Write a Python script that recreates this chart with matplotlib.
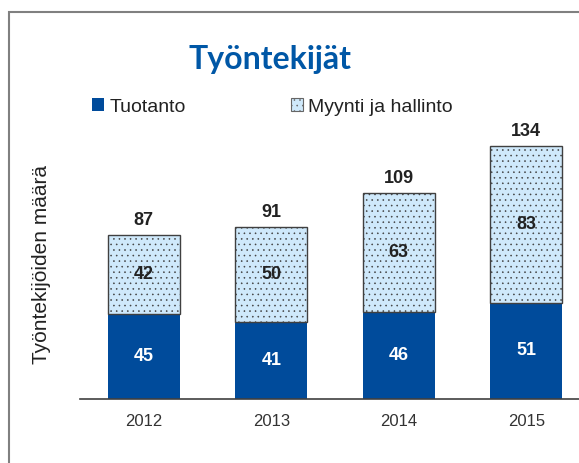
import matplotlib.pyplot as plt
from matplotlib.patches import Patch, Rectangle
import numpy as np

# data
vuodet = ['2012', '2013', '2014', '2015']
tuotanto = [45, 41, 46, 51]
myynti = [42, 50, 63, 83]
yhteensa = [87, 91, 109, 134]

tumma = '#004B9B'
vaalea = '#CFE9FB'

plt.rcParams['font.family'] = ['Liberation Sans', 'DejaVu Sans']
plt.rcParams['hatch.color'] = '#2a3a4a'
plt.rcParams['hatch.linewidth'] = 0.4

fig = plt.figure(figsize=(5.79, 4.63), dpi=100)

# frame around the chart
fig.patches.append(Rectangle((9/579, -0.05), 1.0, 1 - 12/463 + 0.05, transform=fig.transFigure,
                             fill=False, edgecolor='#808080', linewidth=1.5))

ax = fig.add_axes([80/579, 64/463, 499/579, 269/463])
x = np.arange(len(vuodet))
w = 0.565

ax.bar(x, tuotanto, w, color=tumma, edgecolor='none')
ax.bar(x, myynti, w, bottom=tuotanto, color=vaalea, edgecolor='#404040', linewidth=1.0, hatch='...')

for i in range(len(vuodet)):
    ax.text(x[i], tuotanto[i] / 2, str(tuotanto[i]), ha='center', va='center',
            color='white', fontsize=13, fontweight='bold')
    ax.text(x[i], tuotanto[i] + myynti[i] / 2, str(myynti[i]), ha='center', va='center',
            color='#222222', fontsize=13, fontweight='bold')
    ax.text(x[i], yhteensa[i] + 3, str(yhteensa[i]), ha='center', va='bottom',
            color='#222222', fontsize=13, fontweight='bold', clip_on=False)

ax.set_xlim(-0.5, -0.5 + 499/127.5)
ax.set_ylim(0, 269/1.89)
ax.set_xticks(x)
ax.set_xticklabels(vuodet, fontsize=12, color='#333333')
ax.tick_params(axis='x', length=0, pad=11)
ax.set_yticks([])
for s in ['top', 'right', 'left']:
    ax.spines[s].set_visible(False)
ax.spines['bottom'].set_color('#404040')
ax.spines['bottom'].set_linewidth(1.2)

fig.text(42/579, 1 - 265/463, 'Työntekijöiden määrä', rotation=90, ha='center', va='center',
         fontsize=15, color='#222222')

fig.text(270/579, 1 - 59/463, 'Työntekijät', ha='center', va='center', fontsize=23,
         fontweight='bold', color='#0057A6', family=['Lato', 'DejaVu Sans'])

kahvat = [Patch(facecolor=tumma, edgecolor='none'),
          Patch(facecolor=vaalea, edgecolor='#666666', hatch='...', linewidth=0.8)]
fig.legend(kahvat, ['Tuotanto', 'Myynti ja hallinto'], loc='center left',
           bbox_to_anchor=(92/579, 1 - 107/463), ncol=2, frameon=False, fontsize=14,
           handlelength=0.6, handleheight=0.6, handletextpad=0.3, columnspacing=5.4,
           borderpad=0, borderaxespad=0, labelcolor='#222222')

fig.savefig('out.png', dpi=100)
